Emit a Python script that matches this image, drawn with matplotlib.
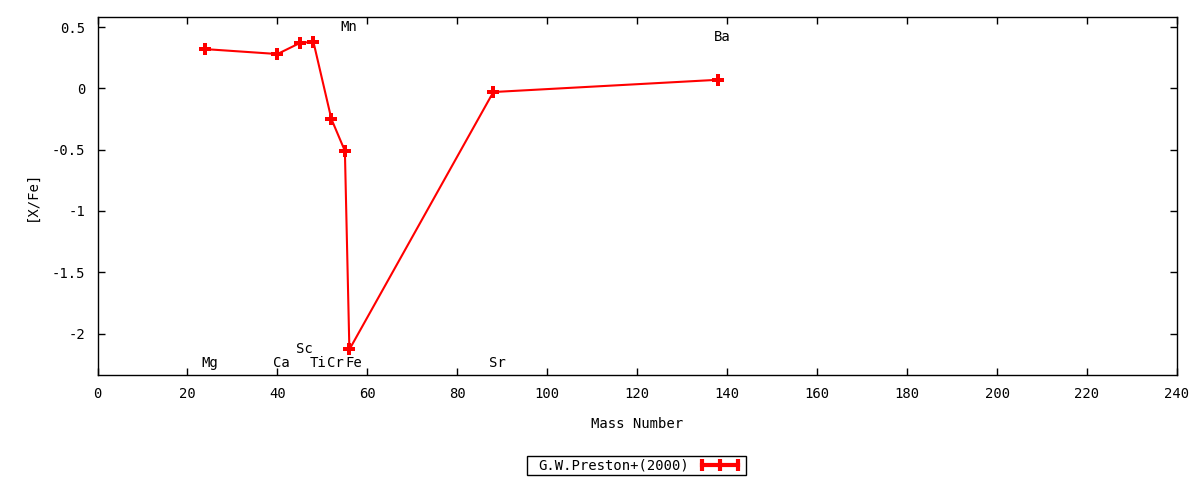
import matplotlib
matplotlib.use("Agg")
import matplotlib.pyplot as plt
from matplotlib.lines import Line2D
from matplotlib.patches import Rectangle

plt.rcParams['font.family'] = ['DejaVu Sans Mono']

elements = ["Mg", "Ca", "Sc", "Ti", "Cr", "Mn", "Fe", "Sr", "Ba"]
mass = [24, 40, 45, 48, 52, 55, 56, 88, 138]
x_fe = [0.32, 0.28, 0.37, 0.38, -0.25, -0.51, -2.13, -0.03, 0.07]
label_y = [-2.24, -2.24, -2.13, -2.24, -2.24, 0.50, -2.24, -2.24, 0.42]
xticks = list(range(0, 241, 20))
yticks = [0.5, 0, -0.5, -1, -1.5, -2]
ytick_labels = ["0.5", "0", "-0.5", "-1", "-1.5", "-2"]
series_name = "G.W.Preston+(2000)"

fig = plt.figure(figsize=(12, 4.8), dpi=100)
ax = fig.add_axes([97.5/1200, 1-375/480, (1177-97.5)/1200, (375-17)/480])

ax.plot(mass, x_fe, color='red', lw=1.5, marker='P', ms=8, mew=0)

for el, m, ly in zip(elements, mass, label_y):
    ax.annotate(el, (m, ly), xytext=(3, 0), textcoords='offset points',
                ha='center', va='center', fontsize=10)

ax.set_xlim(0, 240)
ax.set_ylim(-2.338, 0.582)
ax.set_xticks(xticks)
ax.set_yticks(yticks)
ax.set_yticklabels(ytick_labels)
ax.tick_params(axis='x', direction='in', top=True, length=5, width=1,
               labelsize=10, pad=9)
ax.tick_params(axis='y', direction='in', right=True, length=5, width=1,
               labelsize=10, pad=9)
for s in ax.spines.values():
    s.set_linewidth(1)
ax.set_xlabel("Mass Number", fontsize=10, labelpad=11)
ax.set_ylabel("[X/Fe]", fontsize=10, labelpad=9)

handle = Line2D([], [], color='red', lw=3, marker='|', ms=9, mew=3)
leg = fig.legend([handle], [series_name], loc='center',
                 bbox_to_anchor=(640.5/1200, 1-465.5/480),
                 numpoints=3, markerfirst=False, frameon=False,
                 fontsize=10, handlelength=3.2, borderpad=0.15, handletextpad=0.6,
                 borderaxespad=0)
fig.patches.append(Rectangle((527/1200, 1-475/480), 219/1200, 19/480,
                             transform=fig.transFigure, fill=False,
                             edgecolor='black', linewidth=1))

fig.savefig("out.png", dpi=100)
